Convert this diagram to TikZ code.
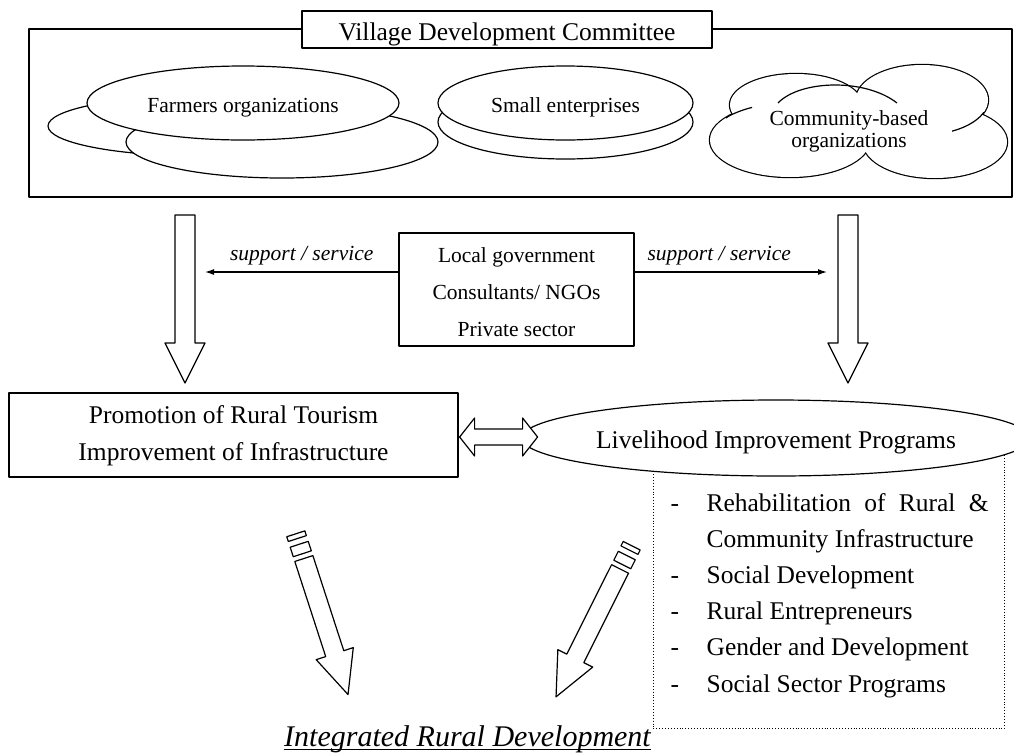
\documentclass[tikz,border=0pt]{standalone}
\usepackage{fontspec}
\setmainfont{Liberation Serif}
\usetikzlibrary{shapes.geometric,arrows.meta}

\tikzset{
  bigtxt/.style={font=\fontsize{25.5}{37}\selectfont},
  smalltxt/.style={font=\fontsize{21.5}{25}\selectfont},
  oneline/.style={text height=#1, text depth=0pt},
  box/.style={draw, fill=white, inner sep=0pt},
  oval/.style={draw, fill=white, ellipse, inner sep=0pt},
  hollow/.style={draw, fill=white},
  service/.style={font=\fontsize{21.5}{25}\selectfont\itshape, inner sep=0pt, anchor=base},
}

\begin{document}
\begin{tikzpicture}[x=1pt, y=-1pt, line width=1.2pt, line join=round, >={Latex[length=9pt,width=6pt]}]
\useasboundingbox (0,0) rectangle (1014,753);

% committee frame
\draw[line width=1.8pt] (29,29) rectangle (1012,197);
\node[box, bigtxt, oneline=21pt, minimum width=410, minimum height=37] (vdc) at (507,29.5) {Village Development Committee};

% farmers organizations
\draw[hollow] (200,126) ellipse [x radius=152, y radius=30];
\draw[hollow] (282,142) ellipse [x radius=156, y radius=36];
\node[oval, smalltxt, oneline=18pt, minimum width=312, minimum height=74] (farmers) at (243,103) {Farmers organizations};

% small enterprises
\draw[hollow] (565.5,122) ellipse [x radius=127.5, y radius=37];
\node[oval, smalltxt, oneline=18pt, minimum width=255, minimum height=74] (smallent) at (565.5,103) {Small enterprises};

% cloud
\foreach \cx/\cy/\rx/\ry in {796/105/66/31, 922/100/66/35, 935/142/72/36, 790/140/80/37}
  \draw[line width=2.4pt] (\cx,\cy) ellipse [x radius=\rx, y radius=\ry];
\foreach \cx/\cy/\rx/\ry in {796/105/66/31, 922/100/66/35, 935/142/72/36, 790/140/80/37, 858/124/52/26}
  \fill[white] (\cx,\cy) ellipse [x radius=\rx, y radius=\ry];
\begin{scope}
  \clip (726,100) rectangle (752,118);
  \draw (790,140) ellipse [x radius=80, y radius=37];
\end{scope}
\begin{scope}
  \clip (952,112) rectangle (984,140);
  \draw (922,100) ellipse [x radius=66, y radius=35];
\end{scope}
\draw (778,103) .. controls (800,80) and (865,78) .. (897,103);
\node[font=\fontsize{21.5}{22}\selectfont, align=center, inner sep=0pt] (cbo) at (849,131.6) {\strut Community-based\\ \strut organizations};

% flows down
\foreach \cx in {185, 848}
  \draw[hollow] (\cx-10,215) -- (\cx+10,215) -- (\cx+10,343) -- (\cx+20,343) -- (\cx,383) -- (\cx-20,343) -- (\cx-10,343) -- cycle;

% support agencies
\node[box, minimum width=235, minimum height=113] (locgov) at (516.5,289.5) {};
\node[font=\fontsize{21.5}{37}\selectfont, align=center, inner sep=0pt] (locgovtext) at ([yshift=-3pt]locgov.center) {\strut Local government\\ \strut Consultants/ NGOs\\ \strut Private sector};
\coordinate (supL) at (205,272);
\coordinate (supR) at (827,272);
\draw[->] (locgov.west |- supL) -- (supL) node[service, pos=0.5, yshift=12pt] (servL) {support / service};
\draw[->] (locgov.east |- supR) -- (supR) node[service, pos=0.44, yshift=12pt] (servR) {support / service};

% programs
\node[box, bigtxt, align=center, minimum width=449, minimum height=84] (tourism) at (233.5,435) {\strut Promotion of Rural Tourism\\ \strut Improvement of Infrastructure};
\node[draw, dotted, line width=0.9pt, inner sep=0pt, minimum width=351, minimum height=288, anchor=north west] (progbox) at (653,440) {};
\node[oval, bigtxt, oneline=21pt, minimum width=475, minimum height=76] (livelihood) at (776,438) {Livelihood Improvement Programs};
\draw[hollow] (tourism.east) ++(1,2) -- ++(15,-19) -- ++(0,11) -- ++(48,0) -- ++(0,-11) -- ++(15,19) -- ++(-15,19) -- ++(0,-11) -- ++(-48,0) -- ++(0,11) -- cycle;
\node[anchor=base west, inner sep=0pt, font=\fontsize{25.5}{36.2}\selectfont] (proglist) at (670,511)
  {\begin{tabular}[t]{@{}p{36pt}@{}l@{}}
   - & \makebox[282pt][s]{Rehabilitation of Rural \&}\\
     & Community Infrastructure\\
   - & Social Development\\
   - & Rural Entrepreneurs\\
   - & Gender and Development\\
   - & Social Sector Programs
  \end{tabular}};

% striped arrows
\foreach \sx/\sy/\ang in {295.8/533.8/-72, 631.7/545.7/-116.6}
{
  \begin{scope}[shift={(\sx,\sy)}, rotate=\ang]
    \draw[hollow] (0,-9.5) rectangle (5,9.5);
    \draw[hollow] (11,-9.5) rectangle (21,9.5);
    \draw[hollow] (26,-9.5) -- (126,-9.5) -- (126,-19.5) -- (169,0) -- (126,19.5) -- (126,9.5) -- (26,9.5) -- cycle;
  \end{scope}
}

% result
\node[anchor=base, inner sep=0pt, font=\fontsize{30}{36}\selectfont\itshape] (ird) at (467.5,746) {Integrated Rural Development};
\draw[line width=1pt] ([yshift=-3pt]ird.base west) -- ([yshift=-3pt]ird.base east);
\end{tikzpicture}
\end{document}
